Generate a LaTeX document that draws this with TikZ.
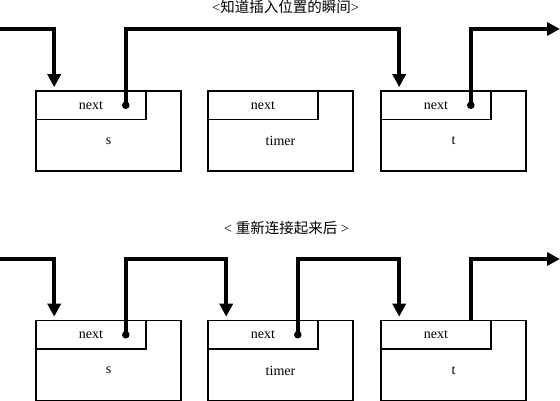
\documentclass[tikz,border=0pt]{standalone}
\usepackage{fontspec}
\setmainfont{Liberation Serif}
\newfontfamily\cjk{Noto Sans CJK SC}
\usetikzlibrary{arrows.meta}

\begin{document}
\begin{tikzpicture}[x=1pt, y=-1pt,
    body/.style = {draw, line width=1.6pt, minimum width=145pt, minimum height=80pt, inner sep=0pt},
    nextbox/.style = {draw, line width=1.6pt, minimum width=110pt, minimum height=28.5pt, inner sep=0pt, font=\fontsize{14}{16}\selectfont},
    lbl/.style = {inner sep=0pt, font=\fontsize{14}{16}\selectfont},
    title/.style = {inner sep=0pt, font=\fontsize{14.5}{16}\selectfont},
    link/.style = {line width=4.2pt, -{Triangle[length=13pt,width=13pt]}},
    intobox/.style = {shorten >=3pt}]
    \def\dotr{3.8pt}
    \useasboundingbox (0,0) rectangle (560,401);

    % the two rows of list nodes
    \foreach \r/\y in {a/131, b/360.5} {
        \foreach \n/\x/\txt in {s/108.5/s, m/280.5/timer, t/453.5/t} {
            \node[body] (\n\r) at (\x,\y) {};
            \node[nextbox, anchor=north west] (\n\r-n) at (\n\r.north west) {next};
            \node[lbl] (\n\r-l) at ([yshift=-10pt]\n\r.center) {\txt};
            \coordinate (\n\r-in) at ([xshift=19pt]\n\r.north west);
            \coordinate (\n\r-dot) at ([xshift=-21pt]\n\r-n.east);
        }
    }

    \node[title] (ttla) at (285.5,7) {<{\cjk 知道插入位置的瞬间}>};
    \node[title] (ttlb) at (286.5,228) {< {\cjk 重新连接起来后} >};

    \coordinate (ina) at (0,29);
    \coordinate (outa) at (560,29);
    \coordinate (inb) at (0,259);
    \coordinate (outb) at (560,259);
    \coordinate (tb-top) at ([xshift=-21pt]tb-n.north east);

    % before
    \draw[link, intobox] (ina) -| (sa-in);
    \draw[link, intobox] (sa-dot) -- (sa-dot |- ina) -| (ta-in);
    \draw[link] (ta-dot) -- (ta-dot |- ina) -- (outa);
    \fill (sa-dot) circle (\dotr);
    \fill (ta-dot) circle (\dotr);

    % after
    \draw[link, intobox] (inb) -| (sb-in);
    \draw[link, intobox] (sb-dot) -- (sb-dot |- inb) -| (mb-in);
    \draw[link, intobox] (mb-dot) -- (mb-dot |- inb) -| (tb-in);
    \draw[link] (tb-top) -- (tb-top |- inb) -- (outb);
    \fill (sb-dot) circle (\dotr);
    \fill (mb-dot) circle (\dotr);
\end{tikzpicture}
\end{document}
